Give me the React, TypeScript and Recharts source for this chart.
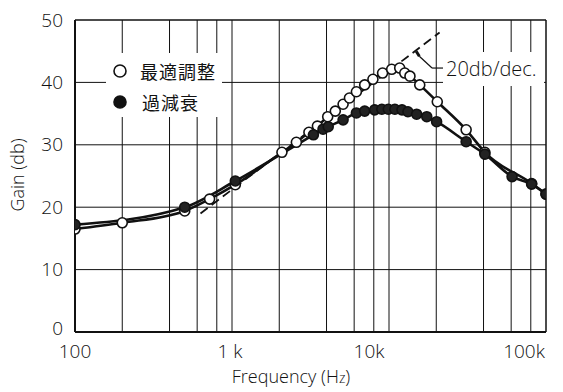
import { LineChart, Line, XAxis, YAxis, ReferenceLine } from "recharts";

// 最適調整 (open circles)
const OPT_FREQ = [100, 200, 500, 720, 1050, 2080, 2570, 3090, 3500, 4070, 4550, 5100, 5600, 6200, 7000, 7900, 9100, 10400, 11700, 12600, 13600, 15700, 20300, 31000, 40800, 81000, 100000];
const OPT_GAIN = [16.5, 17.5, 19.4, 21.3, 23.6, 28.8, 30.4, 32.0, 33.0, 34.5, 35.4, 36.5, 37.5, 38.5, 39.6, 40.5, 41.5, 42.1, 42.3, 41.5, 41.0, 39.6, 36.9, 32.4, 28.8, 23.8, 22.1];

// 過減衰 (filled circles)
const OD_FREQ = [100, 500, 1050, 3300, 3800, 4100, 5100, 6200, 7000, 8100, 9000, 9900, 10900, 12100, 13200, 15000, 17400, 20100, 31000, 40800, 60800, 81000, 100000];
const OD_GAIN = [17.2, 20.0, 24.2, 31.6, 32.5, 32.9, 34.0, 35.1, 35.4, 35.6, 35.7, 35.7, 35.7, 35.6, 35.3, 34.9, 34.5, 33.7, 30.5, 28.5, 24.9, 23.7, 22.1];

const X_TICKS = [100, 1000, 10000, 100000];
const X_TICK_LABELS = ["100", "1 k", "10k", "100k"];
const Y_TICKS = [0, 10, 20, 30, 40, 50];
const X_GRID = [200, 400, 600, 800, 1000, 2000, 4000, 6000, 8000, 10000, 20000, 40000, 60000, 80000];
const Y_GRID = [10, 20, 30, 40];

// 20 db/dec asymptote and its leader line
const ASYMPTOTE = [
  { x: 630, y: 19 },
  { x: 21000, y: 48 },
];
const LEADER = [
  { x: 14900, y: 45.0 },
  { x: 15600, y: 44.2 },
  { x: 18800, y: 42.3 },
  { x: 22100, y: 42.3 },
];

const optData = OPT_FREQ.map((f, i) => ({ f, g: OPT_GAIN[i] }));
const odData = OD_FREQ.map((f, i) => ({ f, g: OD_GAIN[i] }));

const FONT = "'Open Sans', 'DejaVu Sans', sans-serif";
const CJK = "'Noto Sans CJK JP', sans-serif";
const INK = "#111";

// hand-lettered labels sit a little off their tick
const X_LABEL_SHIFT: Record<number, number> = { 100: 0, 1000: -2, 10000: -20, 100000: -15 };

function XTick(props: any) {
  const { x, y, payload } = props;
  const i = X_TICKS.indexOf(payload.value);
  return (
    <text
      x={x + (X_LABEL_SHIFT[payload.value] ?? 0)}
      y={y}
      dy="0.71em"
      textAnchor="middle"
      fontFamily={FONT}
      fontWeight={300}
      fontSize={19}
      fill={INK}
    >
      {X_TICK_LABELS[i]}
    </text>
  );
}

function YTick(props: any) {
  const { x, y, payload } = props;
  return (
    <text
      x={x}
      y={payload.value === 0 ? y - 4 : y}
      dy="0.35em"
      textAnchor="end"
      fontFamily={FONT}
      fontWeight={300}
      fontSize={19}
      fill={INK}
    >
      {payload.value}
    </text>
  );
}

const openDot = { r: 5, fill: "#fff", stroke: INK, strokeWidth: 1.6 };
const filledDot = { r: 5, fill: "#222", stroke: INK, strokeWidth: 1.6 };

export default function App() {
  return (
    <div style={{ position: "absolute", left: 0, top: 0, width: 563, height: 392, background: "#fff" }}>
      <LineChart width={563} height={392} margin={{ top: 20, right: 17, bottom: 30, left: 15 }}>
        <XAxis
          dataKey="f"
          type="number"
          scale="log"
          domain={[100, 100000]}
          allowDataOverflow
          ticks={X_TICKS}
          tick={<XTick />}
          tickLine={false}
          tickSize={0}
          tickMargin={13}
          height={30}
          axisLine={{ stroke: INK, strokeWidth: 2 }}
        />
        <YAxis
          type="number"
          domain={[0, 50]}
          ticks={Y_TICKS}
          tickLine={false}
          tickSize={0}
          tickMargin={12}
          width={60}
          axisLine={{ stroke: INK, strokeWidth: 2 }}
          tick={<YTick />}
        />
        {X_GRID.map((f) => (
          <ReferenceLine key={"gx" + f} x={f} stroke={INK} strokeWidth={1} />
        ))}
        {Y_GRID.map((g) => (
          <ReferenceLine key={"gy" + g} y={g} stroke={INK} strokeWidth={1} />
        ))}
        <ReferenceLine y={50} stroke={INK} strokeWidth={1.5} />
        <ReferenceLine x={100000} stroke={INK} strokeWidth={1.5} />
        <ReferenceLine segment={ASYMPTOTE} stroke={INK} strokeWidth={1.8} strokeDasharray="9 5" />
        <ReferenceLine segment={[LEADER[0], LEADER[1]]} stroke={INK} strokeWidth={3} />
        <ReferenceLine segment={[LEADER[1], LEADER[2]]} stroke={INK} strokeWidth={1.2} />
        <ReferenceLine segment={[LEADER[2], LEADER[3]]} stroke={INK} strokeWidth={1.2} />
        <Line
          data={optData}
          dataKey="g"
          type="monotone"
          stroke={INK}
          strokeWidth={2.6}
          dot={openDot}
          activeDot={false}
          isAnimationActive={false}
        />
        <Line
          data={odData}
          dataKey="g"
          type="monotone"
          stroke={INK}
          strokeWidth={2.6}
          dot={filledDot}
          activeDot={false}
          isAnimationActive={false}
        />
      </LineChart>

      {/* legend */}
      <div
        style={{
          position: "absolute",
          left: 106,
          top: 53,
          width: 116,
          height: 64,
          background: "#fff",
          fontFamily: CJK,
          fontSize: 18,
          color: INK,
        }}
      >
        <div style={{ position: "absolute", left: 6, top: 5, display: "flex", alignItems: "center" }}>
          <svg width={16} height={16}>
            <circle cx={8} cy={8} r={6} fill="#fff" stroke={INK} strokeWidth={1.6} />
          </svg>
          <span style={{ marginLeft: 12, letterSpacing: 1 }}>最適調整</span>
        </div>
        <div style={{ position: "absolute", left: 6, top: 36, display: "flex", alignItems: "center" }}>
          <svg width={16} height={16}>
            <circle cx={8} cy={8} r={6} fill="#111" stroke={INK} strokeWidth={1.6} />
          </svg>
          <span style={{ marginLeft: 14, letterSpacing: 1 }}>過減衰</span>
        </div>
      </div>

      {/* 20db/dec. annotation */}
      <div
        style={{
          position: "absolute",
          left: 443,
          top: 52,
          width: 101,
          height: 34,
          background: "#fff",
          fontFamily: FONT,
          fontWeight: 300,
          fontSize: 20,
          lineHeight: "34px",
          color: INK,
          paddingLeft: 3,
          boxSizing: "border-box",
          whiteSpace: "nowrap",
        }}
      >
        20db/dec.
      </div>

      {/* axis titles */}
      <div
        style={{
          position: "absolute",
          left: 0,
          top: 364,
          width: 582,
          textAlign: "center",
          fontFamily: FONT,
          fontWeight: 300,
          fontSize: 18,
          color: INK,
        }}
      >
        Frequency (H<span style={{ fontSize: 14 }}>z</span>)
      </div>
      <div
        style={{
          position: "absolute",
          left: 17,
          top: 175,
          transform: "translate(-50%, -50%) rotate(-90deg)",
          whiteSpace: "nowrap",
          fontFamily: FONT,
          fontWeight: 300,
          fontSize: 18,
          color: INK,
        }}
      >
        Gain (db)
      </div>
    </div>
  );
}
